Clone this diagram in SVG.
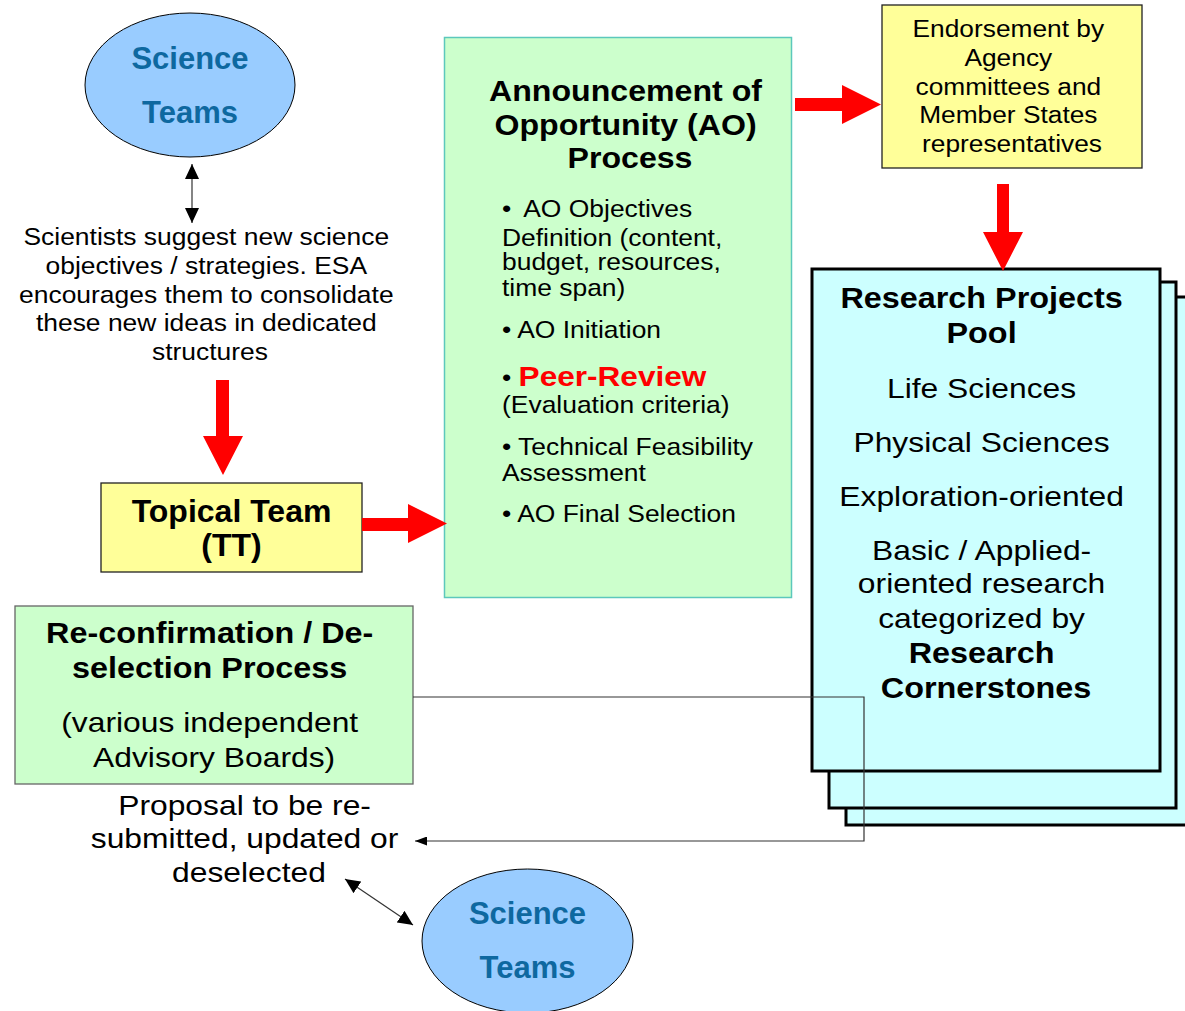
<svg xmlns="http://www.w3.org/2000/svg" width="1185" height="1011" viewBox="0 0 1185 1011">
<defs>
<style>
text { font-family: "Liberation Sans", Arial, sans-serif; fill: #000; }
.b { font-weight: bold; }
.c { text-anchor: middle; }
.sci { font-size: 31px; font-weight: bold; fill: #0e68a0; text-anchor: middle; }
.ell { fill: #99ccff; stroke: #000; stroke-width: 1; }
.yel { fill: #ffff99; stroke: #222; stroke-width: 1.3; }
.ao { fill: #ccffcc; stroke: #5cc8bc; stroke-width: 1.5; }
.rc { fill: #ccffcc; stroke: #666; stroke-width: 1.3; }
.pool { fill: #ccffff; stroke: #000; stroke-width: 3; }
.red { fill: #ff0000; stroke: none; }
.con { fill: none; stroke: #333; stroke-width: 1.2; }
.body { font-size: 23.6px; }
.big { font-size: 28.4px; }
.bb { font-weight: bold; font-size: 28.9px; }
.pr { fill: #ff0000; font-weight: bold; font-size: 28.2px; }
</style>
<marker id="ah" markerUnits="userSpaceOnUse" viewBox="0 0 15 14" markerWidth="15" markerHeight="14" refX="15" refY="7" orient="auto-start-reverse">
<path d="M0,0 L15,7 L0,14 z" fill="#000"/>
</marker>
<marker id="ahs" markerUnits="userSpaceOnUse" viewBox="0 0 12 9" markerWidth="12" markerHeight="9" refX="12" refY="4.5" orient="auto-start-reverse">
<path d="M0,0 L12,4.5 L0,9 z" fill="#000"/>
</marker>
</defs>
<rect x="0" y="0" width="1185" height="1011" fill="#fff"/>

<g id="science-teams-top">
<ellipse class="ell" cx="190" cy="85" rx="105" ry="72"/>
<text class="sci"><tspan x="190" y="68.5">Science</tspan><tspan x="190" y="122.5">Teams</tspan></text>
</g>

<g id="note-scientists">
<text class="body c" transform="matrix(1.12 0 0 1 -25.2 0)">
<tspan x="210" y="245">Scientists suggest new science</tspan>
<tspan x="210" y="274">objectives / strategies. ESA</tspan>
<tspan x="210" y="303">encourages them to consolidate</tspan>
<tspan x="210" y="331.5">these new ideas in dedicated</tspan>
<tspan x="210" y="360">structures</tspan>
</text>
</g>

<g id="topical-team">
<rect class="yel" x="101" y="483" width="261" height="89"/>
<text class="b c" font-size="32"><tspan x="231.5" y="522">Topical Team</tspan><tspan x="231.5" y="556">(TT)</tspan></text>
</g>

<g id="ao-process">
<rect class="ao" x="444.5" y="37.5" width="347" height="560"/>
<text class="b c" font-size="30.3" transform="matrix(1.06 0 0 1 -37.8 0)">
<tspan x="630" y="101">Announcement of</tspan>
<tspan x="630" y="135">Opportunity (AO)</tspan>
<tspan x="630" y="168">Process</tspan>
</text>
<text class="body" transform="matrix(1.12 0 0 1 -60.24 0)">
<tspan x="502" y="217">•<tspan dx="10.7">AO Objectives</tspan></tspan>
<tspan x="502" y="246">Definition (content,</tspan>
<tspan x="502" y="270.5">budget, resources,</tspan>
<tspan x="502" y="296">time span)</tspan>
<tspan x="502" y="338.5">• AO Initiation</tspan>
<tspan x="502" y="386.5">• <tspan class="pr">Peer-Review</tspan></tspan>
<tspan x="502" y="413">(Evaluation criteria)</tspan>
<tspan x="502" y="455">• Technical Feasibility</tspan>
<tspan x="502" y="481">Assessment</tspan>
<tspan x="502" y="522">• AO Final Selection</tspan>
</text>
</g>

<g id="endorsement">
<rect class="yel" x="882" y="5" width="260" height="163"/>
<text class="c" font-size="23.5" transform="matrix(1.12 0 0 1 -121.44 0)">
<tspan x="1012" y="37">Endorsement by</tspan>
<tspan x="1012" y="66">Agency</tspan>
<tspan x="1012" y="95">committees and</tspan>
<tspan x="1012" y="123.5">Member States</tspan>
<tspan x="1012" y="152">representatives</tspan>
</text>
</g>

<g id="research-pool">
<rect class="pool" x="846" y="297" width="360" height="528"/>
<rect class="pool" x="829" y="282" width="347" height="526"/>
<rect class="pool" x="812" y="269" width="348" height="502"/>
<text class="big c" transform="matrix(1.12 0 0 1 -118.32 0)">
<tspan class="bb" x="986" y="308.5">Research Projects</tspan>
<tspan class="bb" x="986" y="343">Pool</tspan>
<tspan x="986" y="398">Life Sciences</tspan>
<tspan x="986" y="452">Physical Sciences</tspan>
<tspan x="986" y="506">Exploration-oriented</tspan>
<tspan x="986" y="560">Basic / Applied-</tspan>
<tspan x="986" y="593.5">oriented research</tspan>
<tspan x="986" y="628.5">categorized by</tspan>
<tspan class="bb" x="986" y="663.5">Research</tspan>
<tspan class="bb" x="986" y="698">Cornerstones</tspan>
</text>
</g>

<g id="reconfirmation">
<rect class="rc" x="15" y="606" width="398" height="178"/>
<text class="big c" transform="matrix(1.12 0 0 1 -25.56 0)">
<tspan class="bb" x="214" y="643">Re-confirmation / De-</tspan>
<tspan class="bb" x="214" y="678">selection Process</tspan>
<tspan x="214" y="732">(various independent</tspan>
<tspan x="214" y="767">Advisory Boards)</tspan>
</text>
</g>

<g id="note-proposal">
<text class="big c" transform="matrix(1.12 0 0 1 -29.88 0)">
<tspan x="249" y="815">Proposal to be re-</tspan>
<tspan x="249" y="848.5">submitted, updated or</tspan>
<tspan x="249" y="882">deselected</tspan>
</text>
</g>

<g id="science-teams-bottom">
<ellipse class="ell" cx="527.5" cy="941" rx="105.5" ry="72"/>
<text class="sci"><tspan x="527.5" y="924">Science</tspan><tspan x="527.5" y="978">Teams</tspan></text>
</g>

<g id="connectors">
<polygon class="red" points="216,380 229,380 229,436 243,436 223,475 203,436 216,436"/>
<polygon class="red" points="362,518 408,518 408,504 447,523.5 408,543 408,531 362,531"/>
<polygon class="red" points="795,98 842,98 842,85 881,104.5 842,124 842,111 795,111"/>
<polygon class="red" points="997,184 1009,184 1009,232 1023,232 1003,271 983,232 997,232"/>
<line class="con" x1="192" y1="164" x2="192" y2="223" marker-start="url(#ah)" marker-end="url(#ah)"/>
<line class="con" x1="345" y1="879" x2="413" y2="925" marker-start="url(#ah)" marker-end="url(#ah)"/>
<polyline class="con" points="413,697 864,697 864,841 415,841" marker-end="url(#ahs)"/>
</g>
</svg>
